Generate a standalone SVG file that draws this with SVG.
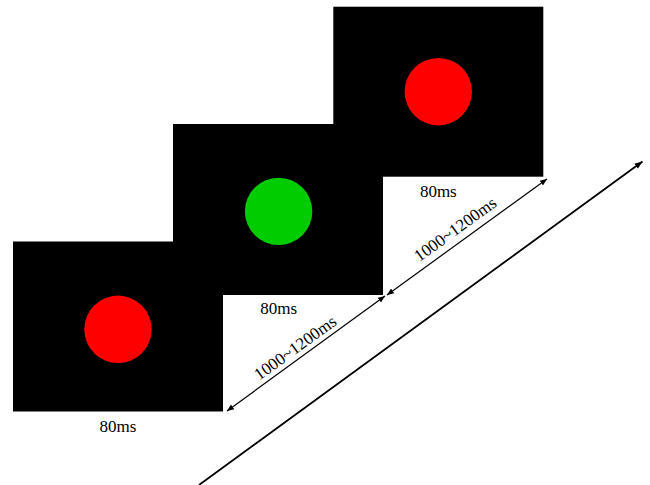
<svg xmlns="http://www.w3.org/2000/svg" width="650" height="485" viewBox="0 0 650 485">
  <style>
    .screen { fill: #000000; }
    .red { fill: #ff0000; }
    .green { fill: #00cc00; }
    .lbl { font-size: 17px; fill: #000000; text-anchor: middle; }
    .conn { stroke: #000000; stroke-width: 1.2; fill: none; }
    .time { stroke: #000000; stroke-width: 1.8; fill: none; }
  </style>
  <defs>
    <marker id="ah" viewBox="0 0 10 10" refX="10" refY="5" markerWidth="7" markerHeight="7" markerUnits="userSpaceOnUse" orient="auto-start-reverse">
      <path d="M0,1 L10,5 L0,9 Z" fill="#000000"/>
    </marker>
    <marker id="ah2" viewBox="0 0 10 10" refX="10" refY="5" markerWidth="8" markerHeight="8" markerUnits="userSpaceOnUse" orient="auto">
      <path d="M0,1 L10,5 L0,9 Z" fill="#000000"/>
    </marker>
  </defs>
  <rect width="650" height="485" fill="#ffffff"/>

  <g font-family="Liberation Serif, DejaVu Serif, serif">
  <g id="screen1">
    <rect class="screen" x="13" y="241.5" width="210" height="170"/>
    <circle class="red" cx="118" cy="329.3" r="33.7"/>
    <text class="lbl" x="118" y="431.5">80ms</text>
  </g>
  <g id="screen2">
    <rect class="screen" x="173" y="124" width="210" height="171"/>
    <circle class="green" cx="278.6" cy="211.4" r="33.7"/>
    <text class="lbl" x="278.6" y="314">80ms</text>
  </g>
  <g id="screen3">
    <rect class="screen" x="333.3" y="6.7" width="210" height="170"/>
    <circle class="red" cx="438.3" cy="91.7" r="33.7"/>
    <text class="lbl" x="438.3" y="196.5">80ms</text>
  </g>

  <g id="connectors">
    <line class="conn" x1="227" y1="411" x2="385" y2="296" marker-start="url(#ah)" marker-end="url(#ah)"/>
    <line class="conn" x1="387" y1="295" x2="547" y2="179" marker-start="url(#ah)" marker-end="url(#ah)"/>
    <line class="time" x1="199" y1="485" x2="642.5" y2="161.5" marker-end="url(#ah2)"/>
    <text class="lbl" transform="translate(295,347.5) rotate(-36)" x="0" y="6">1000~1200ms</text>
    <text class="lbl" transform="translate(455,229) rotate(-36)" x="0" y="6">1000~1200ms</text>
  </g>
  </g>
</svg>
